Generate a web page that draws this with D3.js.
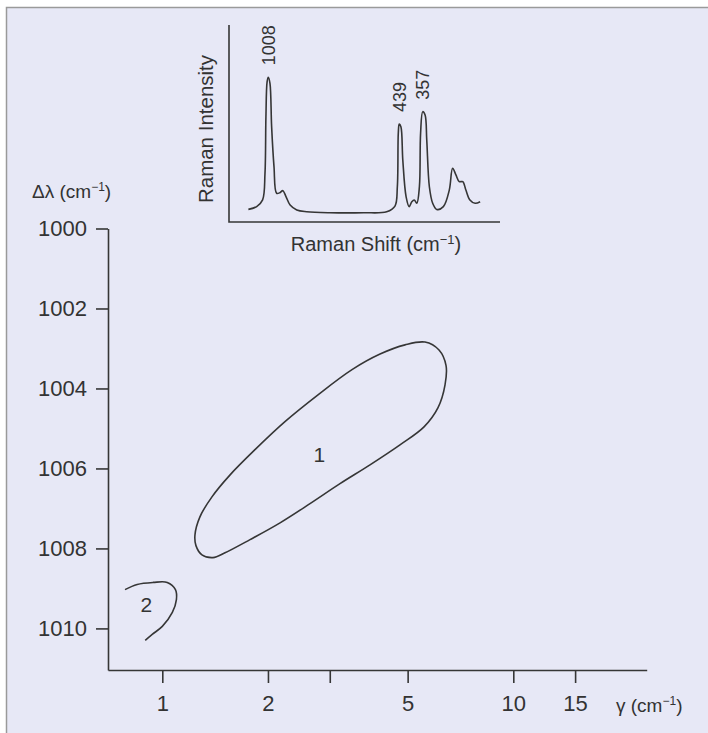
<!DOCTYPE html>
<html>
<head>
<meta charset="utf-8">
<script src="https://cdn.jsdelivr.net/npm/d3@7"></script>
<style>
  body { margin: 0; background: #fff; }
  text { font-family: "Liberation Sans", Arial, sans-serif; fill: #333; }
</style>
</head>
<body>
<div id="chart"></div>
<script>
// main plot: contour outlines in (gamma, delta lambda)
var contour1Gamma = [4.915, 5.603, 6.143, 6.433, 6.390, 6.103, 5.567, 4.755, 3.906, 3.208, 2.635, 2.165, 1.778, 1.509, 1.394, 1.297, 1.247, 1.239, 1.280, 1.385, 1.560, 1.837, 2.236, 2.777, 3.471, 4.172];
var contour1Shift = [1002.91, 1002.84, 1003.04, 1003.43, 1003.91, 1004.48, 1004.96, 1005.41, 1005.91, 1006.38, 1006.88, 1007.36, 1007.78, 1008.11, 1008.23, 1008.16, 1007.93, 1007.66, 1007.21, 1006.71, 1006.16, 1005.53, 1004.83, 1004.16, 1003.53, 1003.14];
var contour2Gamma = [0.783, 0.848, 0.942, 1.033, 1.09, 1.097, 1.068, 1.0, 0.936, 0.894];
var contour2Shift = [1009.03, 1008.90, 1008.85, 1008.85, 1009.03, 1009.28, 1009.60, 1009.95, 1010.15, 1010.30];
var contourLabels = ["1", "2"];
var labelGamma = [2.80, 0.90];
var labelShift = [1005.66, 1009.40];

var xTicks = [1, 2, 3, 5, 10, 15];
var yTicks = [1000, 1002, 1004, 1006, 1008, 1010];

// inset: Raman spectrum
var ramanShift = [1092, 1057, 1032, 1022, 1018, 1013, 1008, 1001, 994, 984, 973, 959, 947, 933, 916, 888, 846, 748, 607, 509, 474, 464, 460, 456, 449, 441, 427, 414, 403, 393, 382, 371, 366, 357, 347, 340, 329, 315, 298, 270, 245, 231, 217, 203, 188, 175, 158, 136, 115];
var ramanIntensity = [6.4, 7.8, 11.2, 24.7, 53.5, 71.2, 73.5, 70.4, 48.4, 28.1, 14.6, 14.9, 15.9, 12.8, 8.6, 6.1, 5.2, 4.7, 4.7, 5.2, 8.1, 17.9, 45.0, 49.7, 48.4, 31.5, 12.8, 7.8, 10.3, 11.2, 9.5, 17.9, 45.0, 56.0, 54.3, 41.6, 17.9, 9.5, 6.4, 7.8, 16.2, 27.3, 23.9, 20.5, 20.5, 16.2, 11.2, 9.5, 10.3];
var peakLabels = ["1008", "439", "357"];
var peakShift = [1008, 456, 357];
var peakIntensity = [73.5, 49.7, 56.0];

var width = 708;
var height = 733;
var ink = "#363636";

var svg = d3.select("#chart")
    .append("svg")
      .attr("width", width)
      .attr("height", height);

// page frame
svg.append("rect")
    .attr("x", 6.5)
    .attr("y", 7.5)
    .attr("width", width)
    .attr("height", height)
    .attr("fill", "#e7e8f6")
    .attr("stroke", "#9a9a9a")
    .attr("stroke-width", 1.5);

// log axis, 1 and 10 pinned to where the ticks sit
var x = d3.scaleLog()
    .domain([Math.pow(10, (108 - 162.3) / 351), Math.pow(10, (646.7 - 162.3) / 351)])
    .range([108, 646.7]);

var y = d3.scaleLinear()
    .domain([1000, 1011.04])
    .range([228.5, 670]);

svg.append("g")
    .attr("transform", "translate(0,670)")
    .call(d3.axisBottom(x)
      .tickValues(xTicks)
      .tickFormat(function(d) { return d === 3 ? "" : d; })
      .tickSizeInner(13)
      .tickSizeOuter(0)
      .tickPadding(12));

svg.append("g")
    .attr("transform", "translate(108,0)")
    .call(d3.axisLeft(y)
      .tickValues(yTicks)
      .tickFormat(d3.format("d"))
      .tickSizeInner(12)
      .tickSizeOuter(0)
      .tickPadding(9));

svg.selectAll(".domain, .tick line")
    .attr("stroke", ink)
    .attr("stroke-width", 1.6);
svg.selectAll(".tick text")
    .attr("fill", "#333")
    .style("font-family", "Liberation Sans, Arial, sans-serif")
    .style("font-size", "22px");

// axis titles
var yTitle = svg.append("text")
    .attr("x", 32)
    .attr("y", 198)
    .style("font-size", "19px");
yTitle.append("tspan").text("\u0394\u03bb (cm");
yTitle.append("tspan").attr("dy", -7).style("font-size", "12px").text("\u22121");
yTitle.append("tspan").attr("dy", 7).text(")");

var xTitle = svg.append("text")
    .attr("x", 616)
    .attr("y", 712)
    .style("font-size", "19px");
xTitle.append("tspan").text("\u03b3 (cm");
xTitle.append("tspan").attr("dy", -7).style("font-size", "12px").text("\u22121");
xTitle.append("tspan").attr("dy", 7).text(")");

// contours
var c1 = contour1Gamma.map(function(g, i) { return [g, contour1Shift[i]]; });
var c2 = contour2Gamma.map(function(g, i) { return [g, contour2Shift[i]]; });

svg.append("path")
    .attr("d", d3.line()
      .x(function(d) { return x(d[0]); })
      .y(function(d) { return y(d[1]); })
      .curve(d3.curveCatmullRomClosed)(c1))
    .attr("fill", "none")
    .attr("stroke", ink)
    .attr("stroke-width", 1.6);

svg.append("path")
    .attr("d", d3.line()
      .x(function(d) { return x(d[0]); })
      .y(function(d) { return y(d[1]); })
      .curve(d3.curveCatmullRom)(c2))
    .attr("fill", "none")
    .attr("stroke", ink)
    .attr("stroke-width", 1.6);

svg.selectAll(".clabel")
    .data(contourLabels)
    .enter()
    .append("text")
      .attr("class", "clabel")
      .attr("x", function(d, i) { return x(labelGamma[i]); })
      .attr("y", function(d, i) { return y(labelShift[i]); })
      .attr("dy", "0.36em")
      .attr("text-anchor", "middle")
      .style("font-size", "21px")
      .text(function(d) { return d; });

// inset spectrum
var xs = d3.scaleLinear()
    .domain([1173.7, 31.2])
    .range([229, 500]);
var ys = d3.scaleLinear()
    .domain([0, 100])
    .range([222, 25]);

var inset = svg.append("g");

inset.append("path")
    .attr("d", d3.line()([[xs.range()[0], ys.range()[1]], [xs.range()[0], ys.range()[0]], [xs.range()[1], ys.range()[0]]]))
    .attr("fill", "none")
    .attr("stroke", ink)
    .attr("stroke-width", 1.6);

var spec = ramanShift.map(function(s, i) { return [s, ramanIntensity[i]]; });
inset.append("path")
    .attr("d", d3.line()
      .x(function(d) { return xs(d[0]); })
      .y(function(d) { return ys(d[1]); })
      .curve(d3.curveCatmullRom.alpha(0.5))(spec))
    .attr("fill", "none")
    .attr("stroke", ink)
    .attr("stroke-width", 1.6);

inset.selectAll(".peak")
    .data(peakLabels)
    .enter()
    .append("text")
      .attr("class", "peak")
      .attr("transform", function(d, i) {
        return "translate(" + xs(peakShift[i]) + "," + (ys(peakIntensity[i]) - 12) + ") rotate(-90)";
      })
      .attr("dy", "0.36em")
      .style("font-size", "18px")
      .text(function(d) { return d; });

inset.append("text")
    .attr("transform", "translate(213,129) rotate(-90)")
    .attr("text-anchor", "middle")
    .style("font-size", "20.5px")
    .text("Raman Intensity");

var sTitle = inset.append("text")
    .attr("x", 376)
    .attr("y", 251)
    .attr("text-anchor", "middle")
    .style("font-size", "20px");
sTitle.append("tspan").text("Raman Shift (cm");
sTitle.append("tspan").attr("dy", -7).style("font-size", "13px").text("\u22121");
sTitle.append("tspan").attr("dy", 7).text(")");
</script>
</body>
</html>
